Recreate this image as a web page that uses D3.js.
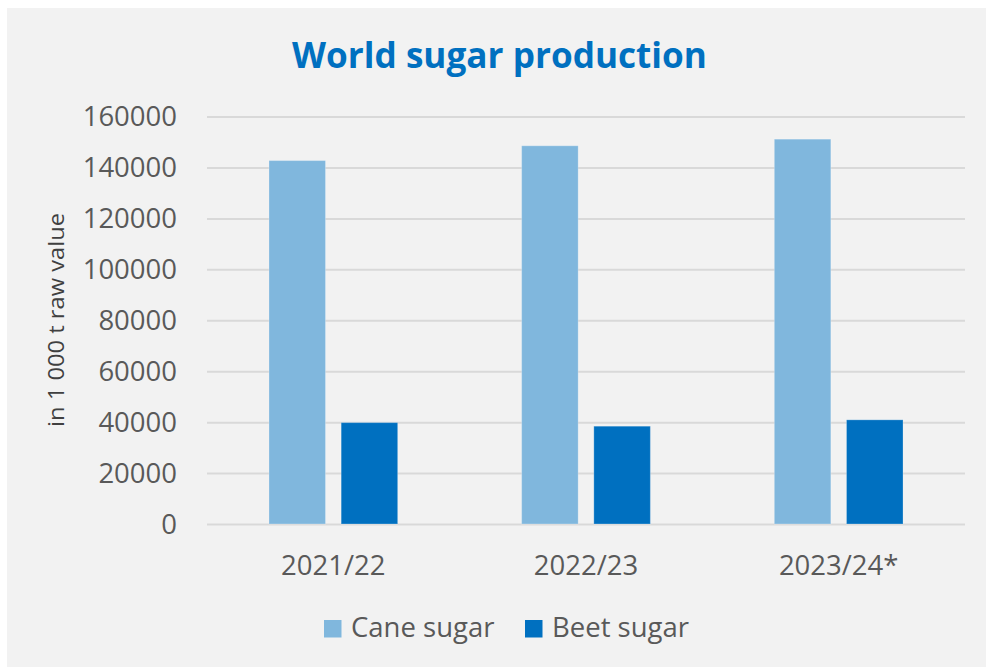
<!DOCTYPE html>
<html>
<head>
<meta charset="utf-8">
<script src="https://cdn.jsdelivr.net/npm/d3@7"></script>
<style>
  html, body { margin: 0; padding: 0; background: #ffffff; }
  svg { display: block; }
</style>
</head>
<body>
<svg id="chart" width="986" height="667"></svg>
<script>
const categories = ["2021/22", "2022/23", "2023/24*"];
const seriesNames = ["Cane sugar", "Beet sugar"];
const caneSugar = [142700, 148500, 151100];
const beetSugar = [39800, 38400, 40900];
const yTicks = [0, 20000, 40000, 60000, 80000, 100000, 120000, 140000, 160000];
const seriesColors = ["#80b7dd", "#0070c0"];

const svg = d3.select("#chart");
const W = 986, H = 667;
const FONT = "'Open Sans', 'Segoe UI', sans-serif";

// panel background
svg.append("rect").attr("x", 7).attr("y", 8).attr("width", W - 7).attr("height", H - 8)
  .attr("fill", "#f2f2f2");

const plot = { left: 207, right: 965, top: 116.5, bottom: 524 };

const y = d3.scaleLinear().domain([0, 160000]).range([plot.bottom, plot.top]);
const x0 = d3.scaleBand().domain(categories).range([plot.left, plot.right]).paddingInner(0).paddingOuter(0);
const groupW = 128.7;
const x1 = d3.scaleBand().domain(seriesNames)
  .range([(x0.bandwidth() - groupW) / 2, (x0.bandwidth() + groupW) / 2])
  .paddingInner(0.217).paddingOuter(0);

// gridlines
const yAxis = d3.axisLeft(y).tickValues(yTicks).tickSize(-(plot.right - plot.left)).tickPadding(30)
  .tickFormat(d3.format("d"));
const gy = svg.append("g").attr("transform", `translate(${plot.left},0)`).call(yAxis);
gy.select(".domain").remove();
gy.selectAll(".tick line").attr("stroke", "#d9d9d9").attr("stroke-width", 2);
gy.selectAll(".tick text").attr("font-family", FONT).attr("font-size", 27.5)
  .attr("fill", "#595959").attr("x", -30).attr("dy", "0.34em");

// bars
const data = categories.map((c, i) => ({ cat: c, values: [caneSugar[i], beetSugar[i]] }));
const groups = svg.append("g").selectAll("g").data(data).join("g")
  .attr("transform", d => `translate(${x0(d.cat)},0)`);
groups.selectAll("rect").data(d => d.values.map((v, j) => ({ name: seriesNames[j], v, j })))
  .join("rect")
  .attr("x", d => x1(d.name))
  .attr("width", x1.bandwidth())
  .attr("y", d => y(d.v))
  .attr("height", d => y(0) - y(d.v))
  .attr("fill", d => seriesColors[d.j])
  .attr("stroke", "rgba(255,255,255,0.25)")
  .attr("stroke-width", 1);

// x axis labels
const xAxis = d3.axisBottom(x0).tickSize(0).tickPadding(0);
const gx = svg.append("g").attr("transform", `translate(0,${plot.bottom})`).call(xAxis);
gx.select(".domain").remove();
gx.selectAll(".tick text").attr("font-family", FONT).attr("font-size", 27.5)
  .attr("fill", "#595959").attr("y", 51).attr("dy", 0);

// y axis title
svg.append("text")
  .attr("transform", "translate(64,320) rotate(-90)")
  .attr("text-anchor", "middle")
  .attr("font-family", FONT).attr("font-size", 22.5).attr("fill", "#404040")
  .attr("textLength", 214).attr("lengthAdjust", "spacingAndGlyphs")
  .text("in 1 000 t raw value");

// title (taller, narrower glyphs like the original)
const titleG = svg.append("g").attr("transform", "translate(499.5,68)");
const title = titleG.append("text")
  .attr("x", 0).attr("y", 0).attr("text-anchor", "middle")
  .attr("font-family", FONT).attr("font-weight", "bold").attr("font-size", 36)
  .attr("fill", "#0070c0")
  .text("World sugar production");
const tw = title.node().getComputedTextLength();
titleG.attr("transform", `translate(499.5,68) scale(${415 / tw},1)`);

// legend
const legendItems = [
  { name: seriesNames[0], color: seriesColors[0], sx: 324, tx: 351 },
  { name: seriesNames[1], color: seriesColors[1], sx: 525, tx: 552 }
];
const lg = svg.append("g");
legendItems.forEach(it => {
  lg.append("rect").attr("x", it.sx).attr("y", 620).attr("width", 17.5).attr("height", 17.5).attr("fill", it.color);
  lg.append("text").attr("x", it.tx).attr("y", 637).attr("font-family", FONT).attr("font-size", 27.5)
    .attr("fill", "#595959").text(it.name);
});
</script>
</body>
</html>
